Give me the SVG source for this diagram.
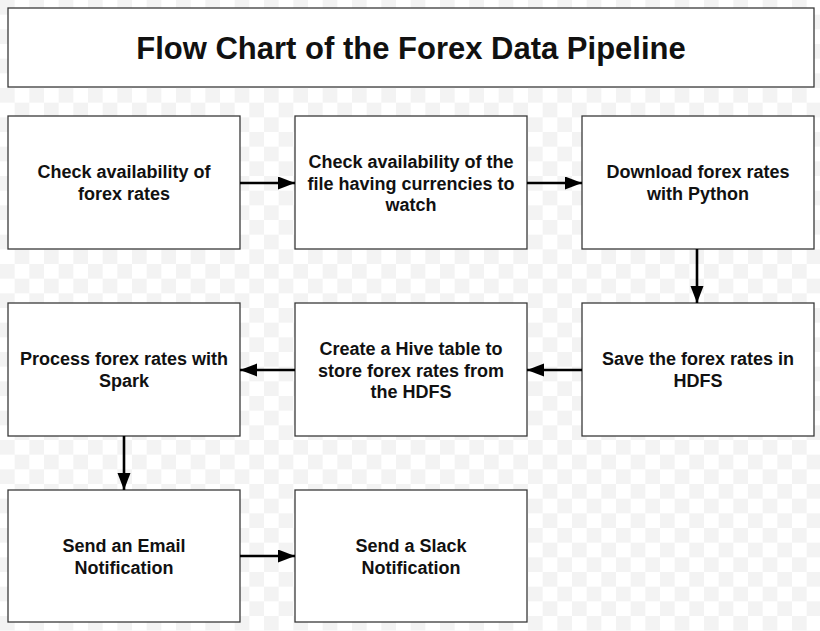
<svg xmlns="http://www.w3.org/2000/svg" width="820" height="631" viewBox="0 0 820 631">
<style>
.box{fill:#ffffff;stroke:#3a3a3a;stroke-width:1.3}
.t{font-family:"Liberation Sans",Arial,sans-serif;font-weight:bold;font-size:18px;fill:#111111;text-anchor:middle}
.title{font-family:"Liberation Sans",Arial,sans-serif;font-weight:bold;font-size:31px;fill:#111111;text-anchor:middle}
.edge{stroke:#000000;stroke-width:2.6;fill:none;marker-end:url(#ah)}
</style>
<defs>
<pattern id="chk" x="0" y="0" width="29.333" height="29.333" patternUnits="userSpaceOnUse">
<rect x="0" y="0" width="29.333" height="29.333" fill="#ffffff"/>
<rect x="0" y="0" width="14.667" height="14.667" fill="#f3f3f3"/>
<rect x="14.667" y="14.667" width="14.667" height="14.667" fill="#f3f3f3"/>
</pattern>
<marker id="ah" markerUnits="userSpaceOnUse" markerWidth="18" markerHeight="14" refX="17" refY="6.5" orient="auto">
<path d="M0,0 L17,6.5 L0,13 z" fill="#000000"/>
</marker>
</defs>
<rect x="0" y="0" width="820" height="631" fill="url(#chk)"/>
<g id="title">
<rect class="box" x="8" y="8" width="806" height="79"/>
<text class="title" x="411" y="59">Flow Chart of the Forex Data Pipeline</text>
</g>
<g id="n1">
<rect class="box" x="8" y="116" width="232" height="133"/>
<text class="t" x="124" y="178">Check availability of</text>
<text class="t" x="124" y="200">forex rates</text>
</g>
<g id="n2">
<rect class="box" x="295" y="116" width="232" height="133"/>
<text class="t" x="411" y="168">Check availability of the</text>
<text class="t" x="411" y="189.5">file having currencies to</text>
<text class="t" x="411" y="211">watch</text>
</g>
<g id="n3">
<rect class="box" x="582" y="116" width="232" height="133"/>
<text class="t" x="698" y="178">Download forex rates</text>
<text class="t" x="698" y="200">with Python</text>
</g>
<g id="n4">
<rect class="box" x="582" y="303" width="232" height="133"/>
<text class="t" x="698" y="365">Save the forex rates in</text>
<text class="t" x="698" y="387">HDFS</text>
</g>
<g id="n5">
<rect class="box" x="295" y="303" width="232" height="133"/>
<text class="t" x="411" y="355">Create a Hive table to</text>
<text class="t" x="411" y="376.5">store forex rates from</text>
<text class="t" x="411" y="398">the HDFS</text>
</g>
<g id="n6">
<rect class="box" x="8" y="303" width="232" height="133"/>
<text class="t" x="124" y="365">Process forex rates with</text>
<text class="t" x="124" y="387">Spark</text>
</g>
<g id="n7">
<rect class="box" x="8" y="490" width="232" height="132"/>
<text class="t" x="124" y="552">Send an Email</text>
<text class="t" x="124" y="574">Notification</text>
</g>
<g id="n8">
<rect class="box" x="295" y="490" width="232" height="132"/>
<text class="t" x="411" y="552">Send a Slack</text>
<text class="t" x="411" y="574">Notification</text>
</g>
<g id="connectors">
<path class="edge" d="M240,183 L295,183"/>
<path class="edge" d="M527,183 L582,183"/>
<path class="edge" d="M697,249 L697,303"/>
<path class="edge" d="M582,370 L527,370"/>
<path class="edge" d="M295,370 L240,370"/>
<path class="edge" d="M124,436 L124,490"/>
<path class="edge" d="M240,556 L295,556"/>
</g>
</svg>
